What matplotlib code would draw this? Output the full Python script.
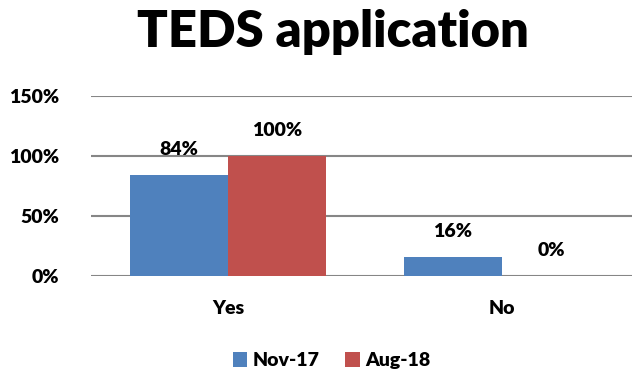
import matplotlib.pyplot as plt
import numpy as np

categories = ['Yes', 'No']
series_names = ['Nov-17', 'Aug-18']
nov17 = [0.84, 0.16]
aug18 = [1.00, 0.00]
yticks = [0, 0.5, 1.0, 1.5]

colors = ['#4F81BD', '#C0504D']
font = 'Lato'
wt = 'heavy'

fig = plt.figure(figsize=(6.32, 3.72), dpi=100)
ax = fig.add_axes([91 / 632, 1 - 276 / 372, 1 - 91 / 632, 180 / 372])

x = np.arange(len(categories))
w = 0.358
for i, (vals, name) in enumerate(zip([nov17, aug18], series_names)):
    pos = x + (i - 0.5) * w
    ax.bar(pos, vals, w, color=colors[i], label=name, zorder=3)
    # value labels sit a little above each bar
    for p, v in zip(pos, vals):
        ax.text(p, v + 0.14, f'{v:.0%}', ha='center', va='bottom',
                fontsize=14, fontweight=wt, family=font)

ax.set_xlim(-0.5, 1.474)
ax.set_ylim(0, 1.5)
ax.set_yticks(yticks)
ax.set_yticklabels([f'{t:.0%}' for t in yticks], fontsize=14,
                   fontweight=wt, family=font)
ax.set_xticks(x)
ax.set_xticklabels(categories, fontsize=14, fontweight=wt, family=font)
ax.tick_params(length=0)
ax.tick_params(axis='x', pad=17)
ax.tick_params(axis='y', pad=23)
ax.grid(axis='y', color='#868686', linewidth=1.5, zorder=0)
for s in ax.spines.values():
    s.set_visible(False)

fig.text(0.527, 0.915, 'TEDS application', ha='center', va='center',
         fontsize=36.5, fontweight=wt, family=font)

fig.legend(loc='center', bbox_to_anchor=(0.525, 0.03), ncol=2,
           frameon=False, handlelength=0.75, handleheight=0.75,
           handletextpad=0.3, columnspacing=1.3,
           prop={'family': font, 'weight': wt, 'size': 14})

fig.savefig('out.png', dpi=100)
